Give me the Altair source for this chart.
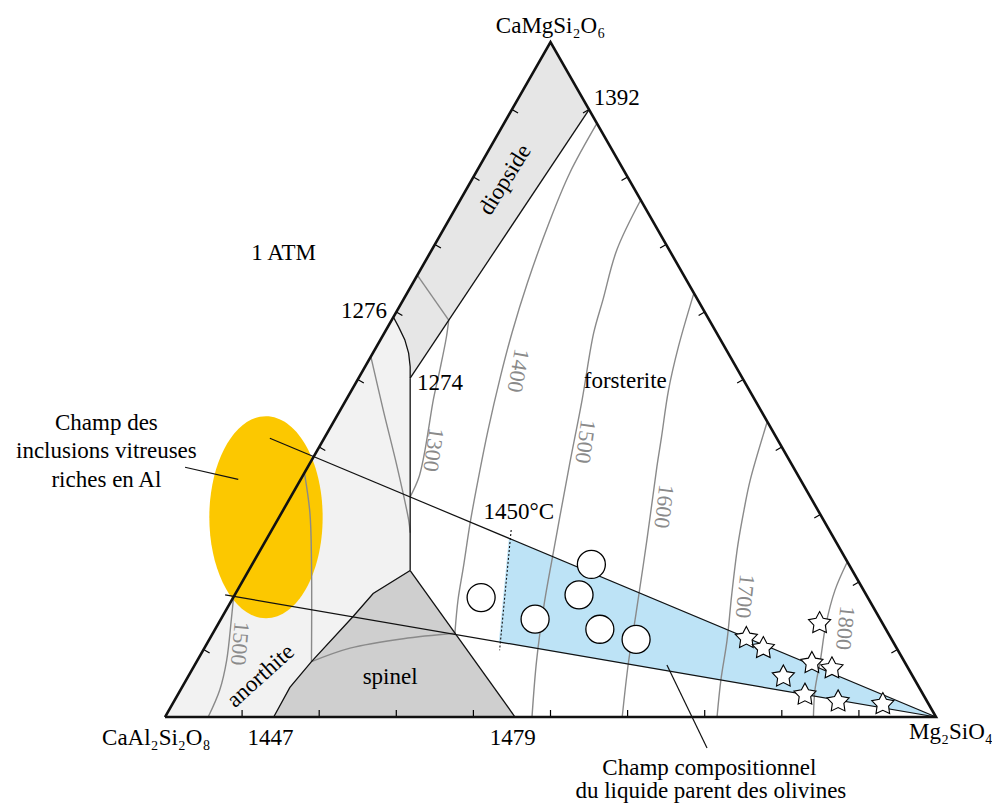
import math
import altair as alt
import pandas as pd

FONT = "Liberation Serif"

# Ternary plane coordinates: x = Fo% + Di%/2 , y = Di%   (An = remainder)
tri_x = [0, 100, 50, 0]
tri_y = [0, 0, 100, 0]

# Phase fields
diop_x = [50, 55, 31.8, 31.8, 31.6, 31.1, 30.3, 29.6]
diop_y = [100, 90, 50.2, 51.9, 53.9, 55.9, 57.8, 59.3]
anor_x = [29.6, 0, 14.1, 16.2, 19.0, 24.4, 27.0, 31.8, 31.8, 31.8, 31.6, 31.1, 30.3]
anor_y = [59.3, 0, 0, 4.4, 8.2, 14.9, 18.3, 21.7, 50.2, 51.9, 53.9, 55.9, 57.8]
spin_x = [14.1, 16.2, 19.0, 24.4, 27.0, 31.8, 45.4]
spin_y = [0, 4.4, 8.2, 14.9, 18.3, 21.7, 0]
blue_x = [44.6, 100, 43.3]
blue_y = [26.5, 0, 11.1]

# Cotectic boundaries (black)
bounds = {
    "b1276": ([29.6, 30.3, 31.1, 31.6, 31.8, 31.8], [59.3, 57.8, 55.9, 53.9, 51.9, 50.2]),
    "b1392": ([31.8, 55], [50.2, 90]),
    "bvert": ([31.8, 31.8], [50.2, 21.7]),
    "bspl": ([14.1, 16.2, 19.0, 24.4, 27.0, 31.8], [0, 4.4, 8.2, 14.9, 18.3, 21.7]),
    "bspr": ([31.8, 45.4], [21.7, 0]),
}

# Isotherms (grey)
isos = {
    "i1300d": ([32.7, 36.8], [65.5, 58.8]),
    "i1300f": ([36.8, 36.5, 35.7, 34.8, 34.2, 33.6, 32.9, 31.8],
               [58.8, 56.3, 51.7, 47.0, 42.8, 38.8, 35.4, 32.6]),
    "ian1": ([26.7, 28.3, 30.1, 31.6, 31.8], [53.4, 45.5, 37.1, 29.2, 27.3]),
    "ian2": ([18.1, 18.8, 19.0, 19.0], [36.1, 30.2, 23.3, 8.2]),
    "isp": ([19.0, 24.0, 30.9, 37.6], [8.2, 10.2, 11.6, 12.4]),
    "i1500a": ([8.9, 8.6, 8.0, 7.1, 5.6], [17.8, 14.4, 8.4, 4.0, 0]),
    "i1400": ([56.0, 52.5, 49.8, 47.0, 45.0, 43.5, 41.9, 40.6, 39.6, 38.7, 38.0, 37.6],
              [87.9, 80.6, 73.2, 64.3, 56.9, 50.4, 42.5, 35.1, 28.9, 22.2, 17.3, 12.4]),
    "i1500": ([61.7, 58.6, 56.8, 55.6, 54.1, 52.4, 51.2, 50.5, 49.2, 48.2, 47.6],
              [76.6, 69.2, 61.8, 56.9, 47.0, 37.0, 29.6, 25.2, 16.9, 8.4, 0]),
    "i1600": ([68.6, 66.6, 65.3, 64.4, 63.8, 62.5, 61.1, 60.1, 59.3],
              [62.8, 54.9, 48.4, 41.5, 37.1, 26.2, 15.4, 8.0, 0]),
    "i1700": ([78.1, 75.9, 75.1, 74.3, 73.5, 72.9, 72.1, 71.6],
              [43.7, 35.1, 30.7, 25.5, 18.1, 11.4, 5.5, 0]),
    "i1800": ([88.5, 86.9, 85.7, 85.0, 84.3, 84.1], [23.0, 18.8, 13.6, 8.4, 4.0, 0]),
}

# Tie lines and leader lines
thin = {
    "tie_up": ([13.6, 100], [41.3, 0]),
    "tie_lo": ([7.8, 100], [18.1, 0]),
    "lead1": ([2.6, 9.5], [37.0, 35.2]),
    "lead2": ([65.1, 70.3], [7.7, -4.6]),
}
dot_x = [44.9, 43.4]
dot_y = [27.7, 9.9]

# Ellipse centre (Al-rich melt inclusions)
ell_x = [13.1]
ell_y = [29.6]

# Samples
circ_x = [55.3, 41.0, 53.7, 48.0, 56.4, 61.1]
circ_y = [22.6, 17.7, 18.1, 14.5, 13.0, 11.5]
star_x = [84.9, 75.4, 77.6, 83.9, 86.5, 80.2, 83.0, 87.3, 93.1]
star_y = [13.9, 11.7, 10.2, 8.0, 7.2, 6.0, 3.3, 2.3, 1.9]

tick_vals = [10, 20, 30, 40, 50, 60, 70, 80, 90]

# Text labels
txt_center = [("CaMgSi\u2082O\u2086", 50.0, 101.4), ("forsterite", 59.7, 48.7),
              ("Champ des", -7.6, 42.5), ("inclusions vitreuses", -7.6, 38.4),
              ("riches en Al", -7.6, 34.1), ("1450°C", 45.9, 29.3),
              ("1447", 13.7, -4.1), ("1479", 45.1, -4.1),
              ("Champ compositionnel", 70.6, -8.6),
              ("du liquide parent des olivines", 70.8, -12.0)]
txt_left = [("1392", 55.6, 90.7), ("1 ATM", 11.2, 67.7), ("1274", 32.7, 48.4),
            ("Mg\u2082SiO\u2084", 96.5, -3.2)]
txt_right = [("1276", 28.8, 59.1), ("CaAl\u2082Si\u2082O\u2088", 5.9, -4.1)]
txt_rot = [("diopside", 44.1, 79.6, 302), ("anorthite", 12.4, 6.1, 318), ("spinel", 29.2, 6.0, 0)]
txt_iso = [("1300", 34.8, 39.6, 98), ("1400", 45.8, 51.3, 100), ("1500", 54.5, 40.8, 98),
           ("1600", 64.7, 31.2, 97), ("1700", 75.2, 17.9, 96), ("1800", 88.2, 13.2, 96),
           ("1500", 9.7, 10.9, 95)]

# ---------------------------------------------------------------
W, H = 984, 799
X_DOM = [-20.36, 107.26]
Y_DOM = [-13.33, 105.04]
PXX = W / (X_DOM[1] - X_DOM[0])
PXY = H / (Y_DOM[1] - Y_DOM[0])
xsc = alt.Scale(domain=X_DOM, nice=False, zero=False)
ysc = alt.Scale(domain=Y_DOM, nice=False, zero=False)
XE = alt.X("x:Q", scale=xsc, axis=None)
YE = alt.Y("y:Q", scale=ysc, axis=None)


def frame(xs, ys):
    return pd.DataFrame({"x": xs, "y": ys, "i": list(range(len(xs)))})


def multi(d):
    rows = []
    for k, (xs, ys) in d.items():
        for i, (a, b) in enumerate(zip(xs, ys)):
            rows.append({"id": k, "i": i, "x": a, "y": b})
    return pd.DataFrame(rows)


def poly(xs, ys, color):
    return alt.Chart(frame(xs, ys)).mark_line(fill=color, stroke=color, strokeWidth=0.5).encode(
        x=XE, y=YE, order="i:Q")


layers = []
layers.append(poly(diop_x, diop_y, "#e6e6e6"))
layers.append(poly(anor_x, anor_y, "#f2f2f2"))
layers.append(poly(spin_x, spin_y, "#cfcfcf"))
layers.append(poly(blue_x, blue_y, "#bde3f6"))

# ticks
TL = 7
rows = []
for v in tick_vals:
    rows.append({"x": v, "y": 0, "x2": v, "y2": TL / PXY})
    lx, ly = v / 2, v
    rows.append({"x": lx, "y": ly, "x2": lx + TL * 0.869 / PXX, "y2": ly - TL * 0.494 / PXY})
    rx, ry = 100 - v / 2, v
    rows.append({"x": rx, "y": ry, "x2": rx - TL * 0.869 / PXX, "y2": ry - TL * 0.494 / PXY})
layers.append(alt.Chart(pd.DataFrame(rows)).mark_rule(color="black", strokeWidth=1.2).encode(
    x=XE, y=YE, x2="x2:Q", y2="y2:Q"))

# ellipse
a, k = 0.561, 0.5523
ell_path = (f"M0,-1 C{k*a:.4f},-1 {a},{-k} {a},0 C{a},{k} {k*a:.4f},1 0,1 "
            f"C{-k*a:.4f},1 {-a},{k} {-a},0 C{-a},{-k} {-k*a:.4f},-1 0,-1 Z")
layers.append(alt.Chart(frame(ell_x, ell_y)).mark_point(
    shape=ell_path, size=40804, filled=True, fill="#fcc800", opacity=1, strokeWidth=0).encode(x=XE, y=YE))

layers.append(alt.Chart(multi(isos)).mark_line(color="#8a8a8a", strokeWidth=1.4, interpolate="catmull-rom").encode(
    x=XE, y=YE, order="i:Q", detail="id:N"))
layers.append(alt.Chart(multi(bounds)).mark_line(color="#111111", strokeWidth=1.3).encode(
    x=XE, y=YE, order="i:Q", detail="id:N"))
layers.append(alt.Chart(multi(thin)).mark_line(color="#111111", strokeWidth=1.2).encode(
    x=XE, y=YE, order="i:Q", detail="id:N"))
layers.append(alt.Chart(frame(dot_x, dot_y)).mark_line(color="#111111", strokeWidth=1.1, strokeDash=[2, 2]).encode(
    x=XE, y=YE, order="i:Q"))
layers.append(alt.Chart(frame(tri_x, tri_y)).mark_line(color="#111111", strokeWidth=2.6, strokeJoin="miter").encode(
    x=XE, y=YE, order="i:Q"))

layers.append(alt.Chart(frame(circ_x, circ_y)).mark_point(
    shape="circle", size=784, filled=True, fill="white", stroke="black", strokeWidth=1.3, opacity=1).encode(x=XE, y=YE))

pts = []
for j in range(10):
    r = 1.0 if j % 2 == 0 else 0.52
    ang = math.radians(-90 + 36 * j)
    pts.append(f"{r*math.cos(ang):.3f},{r*math.sin(ang):.3f}")
star_path = "M" + " L".join(pts) + " Z"
layers.append(alt.Chart(frame(star_x, star_y)).mark_point(
    shape=star_path, size=540, filled=True, fill="white", stroke="black", strokeWidth=1.1, opacity=1).encode(x=XE, y=YE))


def tdf(lst):
    if len(lst[0]) == 3:
        return pd.DataFrame([{"t": t, "x": x, "y": y} for t, x, y in lst])
    return pd.DataFrame([{"t": t, "x": x, "y": y, "a": an} for t, x, y, an in lst])


for lst, al in [(txt_center, "center"), (txt_left, "left"), (txt_right, "right")]:
    layers.append(alt.Chart(tdf(lst)).mark_text(
        font=FONT, fontSize=23, color="black", align=al, baseline="alphabetic").encode(
        x=XE, y=YE, text="t:N"))
layers.append(alt.Chart(tdf(txt_rot)).mark_text(
    font=FONT, fontSize=23, color="black", align="center", baseline="middle").encode(
    x=XE, y=YE, text="t:N", angle=alt.Angle("a:Q", scale=None)))
layers.append(alt.Chart(tdf(txt_iso)).mark_text(
    font=FONT, fontSize=22, color="#8a8a8a", align="center", baseline="middle").encode(
    x=XE, y=YE, text="t:N", angle=alt.Angle("a:Q", scale=None)))

chart = alt.layer(*layers).properties(
    width=W, height=H, padding=0, autosize=alt.AutoSizeParams(type="none"),
    background="white").configure_view(stroke=None)

chart.save("out.html", embed_options={"renderer": "svg", "actions": False})
